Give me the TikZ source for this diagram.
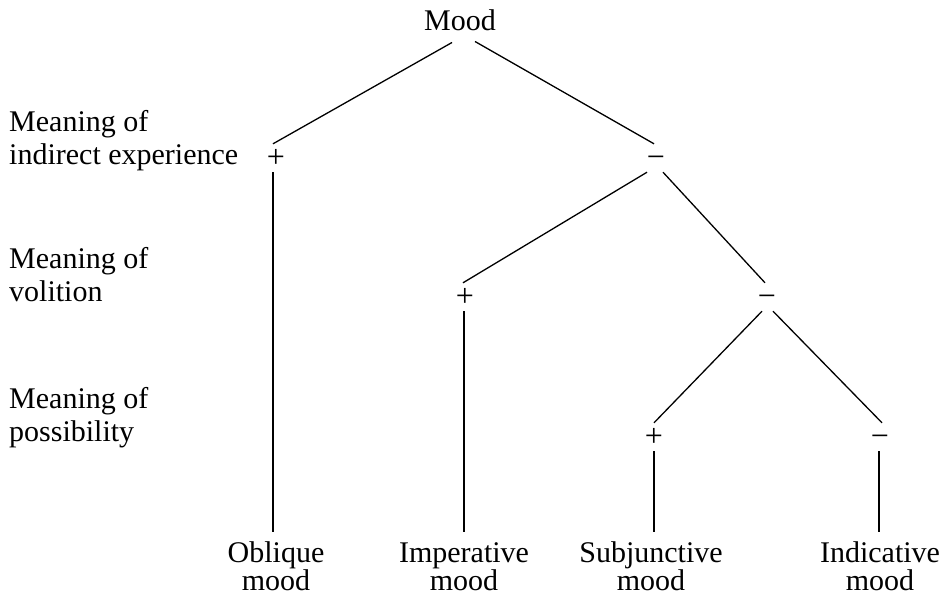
\documentclass[tikz,border=0pt]{standalone}
\usepackage{fontspec}
\setmainfont{Liberation Serif}
\begin{document}
\begin{tikzpicture}[x=1pt,y=-1pt,
  lbl/.style={font=\fontsize{30}{33}\selectfont, anchor=base west, inner sep=0},
  leaf/.style={font=\fontsize{30}{27}\selectfont, anchor=base, inner sep=0},
  root/.style={font=\fontsize{30}{33}\selectfont, anchor=base, inner sep=0},
  sign/.style={font=\fontsize{32}{32}\selectfont, text height=18.5pt, text depth=0pt,
    minimum height=28pt, inner sep=0},
  branch/.style={line width=1.3pt}]
\useasboundingbox (0,0) rectangle (950,597);

% feature labels on the left
\node[lbl] (lexp) at (9,131) {\begin{tabular}[t]{@{}l@{}}Meaning of\\indirect experience\end{tabular}};
\node[lbl] (lvol) at (9,268) {\begin{tabular}[t]{@{}l@{}}Meaning of\\volition\end{tabular}};
\node[lbl] (lpos) at (9,408) {\begin{tabular}[t]{@{}l@{}}Meaning of\\possibility\end{tabular}};

% root
\node[root] (mood) at (460,30) {Mood};

% feature values
\node[sign] (p1) at (276,158) {+};
\node[sign] (m1) at (656,158) {−};
\node[sign] (p2) at (465,297) {+};
\node[sign] (m2) at (767,297) {−};
\node[sign] (p3) at (654,437) {+};
\node[sign] (m3) at (880,437) {−};

% resulting moods
\node[leaf] (obl) at (276,562) {\begin{tabular}[t]{@{}c@{}}Oblique\\mood\end{tabular}};
\node[leaf] (imp) at (464,562) {\begin{tabular}[t]{@{}c@{}}Imperative\\mood\end{tabular}};
\node[leaf] (sub) at (651,562) {\begin{tabular}[t]{@{}c@{}}Subjunctive\\mood\end{tabular}};
\node[leaf] (ind) at (880,562) {\begin{tabular}[t]{@{}c@{}}Indicative\\mood\end{tabular}};

% branches
\draw[branch] ([xshift=-8pt,yshift=-12pt]mood.south) -- ([xshift=-3pt]p1.north);
\draw[branch] ([xshift=15pt,yshift=-11pt]mood.south) -- ([xshift=-2pt]m1.north);
\draw[branch] ([xshift=-9pt]m1.south) -- ([xshift=-2pt]p2.north);
\draw[branch] ([xshift=7pt]m1.south) -- ([xshift=-2pt]m2.north);
\draw[branch] ([xshift=-5pt]m2.south) -- (p3.north);
\draw[branch] ([xshift=6pt]m2.south) -- ([xshift=2pt]m3.north);

% stems down to the moods
\draw[branch] ([xshift=-3pt]p1.south) -- ([xshift=-3pt,yshift=30pt]obl.base);
\draw[branch] ([xshift=-1pt]p2.south) -- ([yshift=30pt]imp.base);
\draw[branch] (p3.south) -- ([xshift=3pt,yshift=30pt]sub.base);
\draw[branch] ([xshift=-1pt]m3.south) -- ([xshift=-1pt,yshift=30pt]ind.base);
\end{tikzpicture}
\end{document}
